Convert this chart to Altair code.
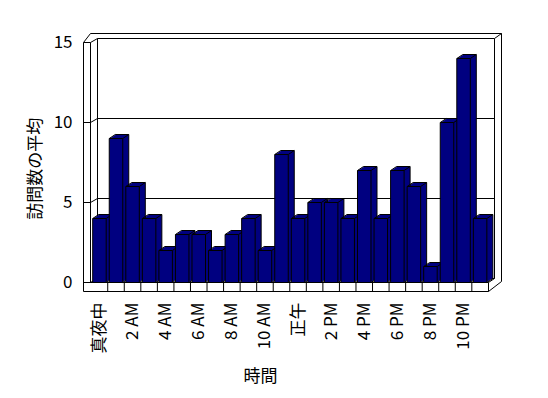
import json
import altair as alt
import pandas as pd

# ---------------- data ----------------
hours = list(range(24))
visits = [4, 9, 6, 4, 2, 3, 3, 2, 3, 4, 2, 8, 4, 5, 5, 4, 7, 4, 7, 6, 1, 10, 14, 4]
tick_hours = [0, 2, 4, 6, 8, 10, 12, 14, 16, 18, 20, 22]
tick_labels = ["真夜中", "2 AM", "4 AM", "6 AM", "8 AM", "10 AM", "正午",
               "2 PM", "4 PM", "6 PM", "8 PM", "10 PM"]
y_ticks = [0, 5, 10, 15]
grid_values = [5, 10]

# ---------------- geometry (page pixels) ----------------
CENTER0, STEP = 99.45, 16.55      # centre of first bar, band step
ZERO_Y, UNIT = 282.5, 16.0        # front-plane zero line, px per unit
BAR_HALF = 0.408                  # half bar width in band units
DEPTH_X, DEPTH_Y = 6.0, 4.0       # 3-D depth (px)
N_EXT = 6
PLOT_L, PLOT_R, PLOT_T, PLOT_B = 82, 503, 32, 294
FONT = "Noto Sans CJK JP"
NAVY = "#000080"


def ux(px):
    return (px - CENTER0) / STEP


def uy(py):
    return (ZERO_Y - py) / UNIT


dxu = DEPTH_X / STEP
dyu = DEPTH_Y / UNIT

# front faces
bars = pd.DataFrame({"hour": hours, "v": visits})
bars["L"] = bars["hour"] - BAR_HALF
bars["R"] = bars["hour"] + BAR_HALF
bars["z"] = 0.0

# extrusion (side + top faces)
ext_rows = []
for k in range(N_EXT, 0, -1):
    f = k / N_EXT
    for h, v in zip(hours, visits):
        ext_rows.append({"x1": h - BAR_HALF + f * dxu, "x2": h + BAR_HALF + f * dxu,
                         "y1": v + f * dyu, "y2": 0 + f * dyu})
ext = pd.DataFrame(ext_rows)

# bar edges
edge_rows = []
for h, v in zip(hours, visits):
    L, R = h - BAR_HALF, h + BAR_HALF
    edge_rows += [
        {"x1": L + dxu, "y1": v + dyu, "x2": R + dxu, "y2": v + dyu},
        {"x1": R + dxu, "y1": v + dyu, "x2": R + dxu, "y2": dyu},
        {"x1": L, "y1": v, "x2": L + dxu, "y2": v + dyu},
        {"x1": R, "y1": v, "x2": R + dxu, "y2": v + dyu},
        {"x1": R, "y1": 0, "x2": R + dxu, "y2": dyu},
    ]
edges = pd.DataFrame(edge_rows)

# frame (walls and floor), page px
OUT_L, IN_L, WALL_L, WALL_R, OUT_R, FLOOR_R = 83.5, 90.5, 97.5, 494.5, 501.5, 488.5
TOP_OUT, TOP_IN, SLAB_TOP = 33.5, 38.5, 42.5
FLOOR_TOP, FLOOR_BOT, FLOOR_BACK = 282.5, 291.5, 278.5
seg_px = [
    (OUT_L, SLAB_TOP, OUT_L, FLOOR_BOT),
    (IN_L, SLAB_TOP, IN_L, FLOOR_TOP),
    (OUT_L, SLAB_TOP, IN_L, SLAB_TOP),
    (OUT_L, SLAB_TOP, 90.5, TOP_OUT),
    (IN_L, SLAB_TOP, WALL_L, TOP_IN),
    (90.5, TOP_OUT, OUT_R, TOP_OUT),
    (WALL_L, TOP_IN, WALL_R, TOP_IN),
    (WALL_L, TOP_IN, WALL_L, FLOOR_BACK),
    (WALL_R, TOP_IN, WALL_R, FLOOR_BACK),
    (OUT_R, TOP_OUT, OUT_R, 281.5),
    (WALL_R, TOP_IN, OUT_R, TOP_OUT),
    (WALL_L, FLOOR_BACK, WALL_R, FLOOR_BACK),
    (IN_L, FLOOR_TOP, WALL_L, FLOOR_BACK),
    (FLOOR_R, FLOOR_BOT, OUT_R, 281.5),
    (FLOOR_R, FLOOR_TOP, WALL_R, FLOOR_BACK),
]
frame = pd.DataFrame([{"x1": ux(a), "y1": uy(b), "x2": ux(c), "y2": uy(d)} for a, b, c, d in seg_px])

grid_rows = []
for g in grid_values:
    gb = g + dyu
    grid_rows += [
        {"x1": ux(OUT_L), "y1": g, "x2": ux(IN_L), "y2": g},
        {"x1": ux(IN_L), "y1": g, "x2": ux(WALL_L), "y2": gb},
        {"x1": ux(WALL_L), "y1": gb, "x2": ux(WALL_R), "y2": gb},
    ]
grid = pd.DataFrame(grid_rows)

# floor front face
floor_rows = [
    {"x1": ux(OUT_L), "y1": uy(FLOOR_TOP), "x2": ux(FLOOR_R), "y2": uy(FLOOR_TOP)},
    {"x1": ux(OUT_L), "y1": uy(FLOOR_BOT), "x2": ux(FLOOR_R), "y2": uy(FLOOR_BOT)},
    {"x1": ux(FLOOR_R), "y1": uy(FLOOR_TOP), "x2": ux(FLOOR_R), "y2": uy(FLOOR_BOT)},
]
for h in hours[:-1]:
    floor_rows.append({"x1": h + 0.5, "y1": uy(FLOOR_TOP), "x2": h + 0.5, "y2": uy(FLOOR_BOT)})
floor = pd.DataFrame(floor_rows)

# ---------------- scales & axes ----------------
xs = alt.Scale(domain=[ux(PLOT_L), ux(PLOT_R)], nice=False, zero=False)
ys = alt.Scale(domain=[uy(PLOT_B), uy(PLOT_T)], nice=False, zero=False)

label_map = json.dumps({str(h): t for h, t in zip(tick_hours, tick_labels)}, ensure_ascii=False)

X_AXIS = alt.Axis(values=tick_hours, labelExpr=f"{label_map}[datum.value]",
                  labelAngle=270, labelPadding=8, domain=False, ticks=False, grid=False,
                  labelFont=FONT, labelFontSize=17, labelColor="#000000",
                  labelOverlap=False, labelFlush=False,
                  title="時間", titleFont=FONT, titleFontSize=17, titleFontWeight="normal",
                  titleColor="#000000", titleX=178, titleY=82.7, titleAlign="center",
                  titleBaseline="middle", titleAngle=0)
Y_AXIS = alt.Axis(values=y_ticks, labelPadding=10, domain=False, ticks=False, grid=False,
                  labelFont=FONT, labelFontSize=17, labelColor="#000000",
                  labelOverlap=False, labelFlush=False,
                  title="訪問数の平均", titleFont=FONT, titleFontSize=17,
                  titleFontWeight="normal", titleColor="#000000",
                  titleAngle=270, titleX=-47, titleY=136.3, titleAlign="center",
                  titleBaseline="middle")


def seg_layer(df):
    return alt.Chart(df).mark_rule(color="black", strokeWidth=1).encode(
        x=alt.X("x1:Q", scale=xs, axis=X_AXIS),
        x2="x2:Q",
        y=alt.Y("y1:Q", scale=ys, axis=Y_AXIS),
        y2="y2:Q",
    )


ext_layer = alt.Chart(ext).mark_rect(color=NAVY, strokeWidth=0).encode(
    x=alt.X("x1:Q", scale=xs, axis=X_AXIS), x2="x2:Q",
    y=alt.Y("y1:Q", scale=ys, axis=Y_AXIS), y2="y2:Q",
)

front_layer = alt.Chart(bars).mark_rect(fill=NAVY, stroke="black", strokeWidth=1).encode(
    x=alt.X("L:Q", scale=xs, axis=X_AXIS), x2="R:Q",
    y=alt.Y("v:Q", scale=ys, axis=Y_AXIS), y2="z:Q",
)

chart = alt.layer(
    seg_layer(frame),
    seg_layer(grid),
    seg_layer(floor),
    ext_layer,
    seg_layer(edges),
    front_layer,
).properties(
    width=PLOT_R - PLOT_L,
    height=PLOT_B - PLOT_T,
    autosize=alt.AutoSizeParams(type="none"),
    padding={"left": PLOT_L - 8, "top": PLOT_T - 8, "right": 20, "bottom": 96},
    background="white",
).configure_view(stroke=None)

chart.save("out.html", embed_options={"renderer": "svg", "actions": False})
